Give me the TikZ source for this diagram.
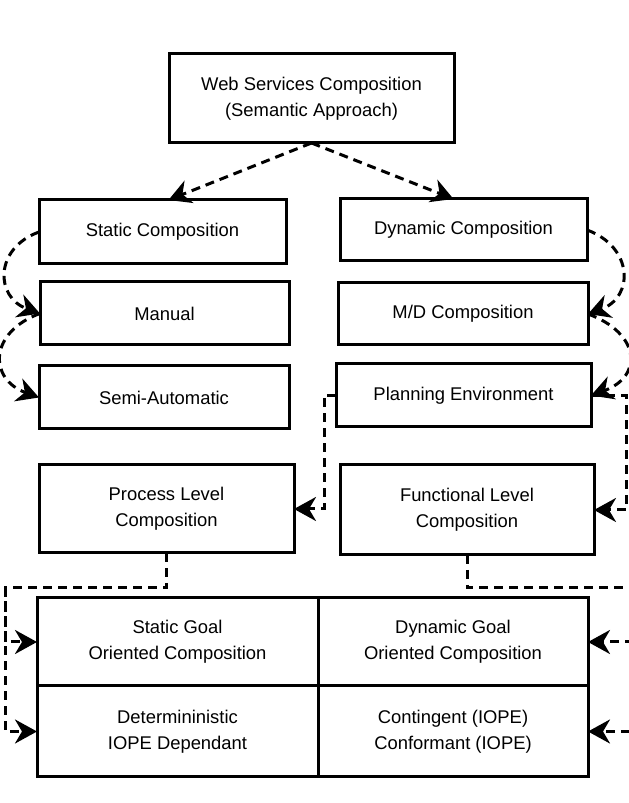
\documentclass[tikz,border=0pt]{standalone}
\usepackage{fontspec}
\setmainfont{Liberation Sans}
\usetikzlibrary{arrows.meta,positioning}

\tikzset{
  box/.style={draw, line width=3pt, outer sep=0pt, align=center,
    minimum width=#1, font=\fontsize{18.4}{26}\selectfont},
  link/.style={line width=3pt, dash pattern=on 9pt off 6pt,
    -{Stealth[length=22pt,width=24pt,inset=7pt]}}
}

\begin{document}
\begin{tikzpicture}[x=1pt,y=1pt,node distance=18pt]
    \useasboundingbox (0,0) rectangle (629,803);
    \node[box=285pt,minimum height=89pt] (wsc) at (311.5,704.5) {Web Services Composition\\(Semantic Approach)};
    \node[box=247pt,minimum height=64pt] (static) at (162.5,571) {Static Composition};
    \node[box=247pt,minimum height=62pt] (dynamic) at (463.5,573) {Dynamic Composition};
    \node[box=249pt,minimum height=63pt] (manual) at (164.5,489.5) {Manual};
    \node[box=250pt,minimum height=62pt] (mdcomp) at (463,489) {M/D Composition};
    \node[box=250pt,minimum height=63pt] (semi) at (164,405.5) {Semi-Automatic};
    \node[box=255pt,minimum height=63pt] (planning) at (463.5,407.5) {Planning Environment};
    \node[box=255pt,minimum height=88pt] (process) at (166.5,294) {Process Level\\Composition};
    \node[box=254pt,minimum height=90pt] (functional) at (467,293) {Functional Level\\Composition};
    \node[box=281pt,minimum height=88pt] (sgoal) at (177.5,161) {Static Goal\\Oriented Composition};
    \node[box=281pt,minimum height=91pt] (determ) [below=0pt of sgoal] {Determininistic\\IOPE Dependant};
    \node[box=270pt,minimum height=88pt] (dgoal) [right=0pt of sgoal] {Dynamic Goal\\Oriented Composition};
    \node[box=270pt,minimum height=91pt] (conting) [below=0pt of dgoal] {Contingent (IOPE)\\Conformant (IOPE)};

    \draw[link] (wsc.south) -- ([xshift=6pt]static.north);
    \draw[link] (wsc.south) -- ([xshift=-10pt]dynamic.north);
    \draw[link] (static.west) to[out=200,in=160,looseness=1.5] (manual.west);
    \draw[link] (manual.west) to[out=200,in=160,looseness=1.65] (semi.west);
    \draw[link] (dynamic.east) to[out=-20,in=20,looseness=1.5] (mdcomp.east);
    \draw[link] (mdcomp.east) to[out=-20,in=20,looseness=1.75] (planning.east);
    \draw[link] (planning.west) -- ++(-12,0) |- (process.east);
    \draw[link] (planning.east) -- ++(35,0) |- (functional.east);

    \coordinate (lbend) at (5,215);
    \coordinate (rbend) at (640,215);
    \draw[link] (process.south) |- (lbend) |- (determ.west);
    \draw[link] (lbend) |- (sgoal.west);
    \draw[link] (functional.south) |- (rbend) |- (conting.east);
    \draw[link] (rbend) |- (dgoal.east);
\end{tikzpicture}
\end{document}
